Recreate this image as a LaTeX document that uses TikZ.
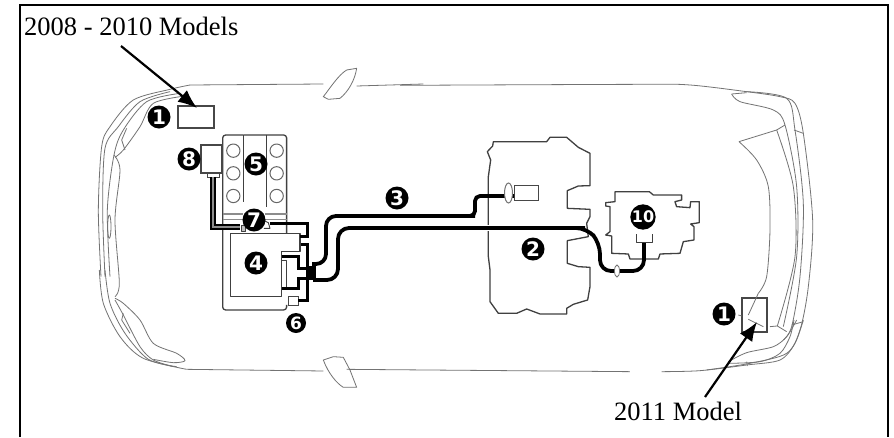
\documentclass[tikz,border=0pt]{standalone}
\usepackage{fontspec}
\setmainfont{Liberation Serif}
\newfontfamily\numfont{DejaVu Sans}
\usetikzlibrary{arrows.meta,shapes.geometric}
\tikzset{
 px/.style={x=1pt,y=-1pt},
 zleft/.style={shift={(90,60)},x=0.3333pt,y=-0.3333pt},
 zmid/.style={shift={(440,110)},x=0.3333pt,y=-0.3333pt},
 zright/.style={shift={(640,70)},x=0.3333pt,y=-0.3333pt},
 zlow/.style={shift={(90,270)},x=0.3333pt,y=-0.3333pt},
 zlowr/.style={shift={(600,320)},x=0.3333pt,y=-0.3333pt},
 carline/.style={draw=black!55,line width=0.8pt,line join=round},
 partline/.style={draw=black!75,line width=1.3pt,line join=round},
 boxline/.style={draw=black!72,line width=1.5pt,fill=white,inner sep=0pt},
 wire/.style={draw=black,line width=3.8pt,line join=round},
 halo/.style={draw=white,line width=5pt},
 num/.style={circle,fill=black,text=white,inner sep=0pt,minimum size=23pt,font=\numfont\bfseries\fontsize{20}{20}\selectfont},
 caption/.style={inner sep=0pt,anchor=base west,font=\fontsize{26.5}{28}\selectfont},
 pointer/.style={-{Latex[length=19pt,width=15pt]},line width=2.2pt,draw=black},
 frameline/.style={draw=black,line width=2.2pt},
}
\begin{document}
\begin{tikzpicture}[px]
\useasboundingbox (0,0) rectangle (894,437);
\fill[white] (0,0) rectangle (894,437);
% frame
\coordinate (fa) at (20,437); \coordinate (fb) at (20,5); \coordinate (fc) at (888,5); \coordinate (fd) at (888,437);
\draw[frameline] (fa) -- (fb) -- (fc) -- (fd);

% car: left end
\begin{scope}[zleft]
 \draw[carline] plot[smooth] coordinates {(300,75)(240,88)(130,120)(60,200)(35,260)(25,450)(33,650)};
 \draw[carline] plot[smooth] coordinates {(240,95)(150,125)(85,200)(45,265)(38,450)(45,650)};
 \draw[carline] plot[smooth] coordinates {(270,100)(170,125)(100,210)(72,285)(52,450)(60,650)};
 \draw[carline] plot[smooth] coordinates {(285,108)(190,130)(150,200)(100,270)(75,292)};
 \draw[carline] (275,110) -- (290,100);
 \draw[carline] plot[smooth] coordinates {(72,285)(90,330)(75,480)(88,670)(75,710)};
 \draw[carline] (110,205) -- (95,240) -- (105,270);
 \draw[carline] (58,500) ellipse (5 and 35);
 \draw[carline] (300,75) -- (700,72);
 \draw[carline] (800,78) -- (1000,72);
 \draw[carline] (700,110) .. controls (720,85) and (745,45) .. (770,30) -- (800,25) .. controls (795,60) and (775,95) .. (750,115) -- (715,118) -- cycle;
\end{scope}
\begin{scope}[zlow]
 \draw[carline] plot[smooth] coordinates {(28,0)(40,100)(90,200)(160,265)(290,298)};
 \draw[carline] plot[smooth] coordinates {(45,0)(60,100)(105,190)(175,268)(260,290)};
 \draw[carline] plot[smooth] coordinates {(75,90)(100,135)(150,230)(190,270)(250,290)};
 \draw[carline] plot[smooth] coordinates {(75,85)(100,100)(150,150)(190,220)(260,250)(285,272)(250,278)(190,268)};
 \draw[carline] (100,130) -- (95,150) -- (120,190);
 \draw[carline] (290,298) -- (700,303);
 \draw[carline] (770,298) -- (1620,305);
 \draw[carline] (700,270) -- (730,260) -- (760,262) -- (780,300) -- (800,352) -- (760,352) .. controls (740,340) and (715,310) .. (700,270) -- cycle;
\end{scope}
% car: top and bottom edges, right end
\begin{scope}[zright]
 \draw[carline] plot[smooth] coordinates {(-720,46)(0,43)(150,45)(320,65)(420,80)(465,100)(490,190)(518,450)(505,650)(480,780)(440,850)(330,880)(200,900)};
 \draw[carline] plot[smooth] coordinates {(320,65)(440,85)(465,180)(490,400)(480,620)(455,770)(430,810)};
 \draw[carline] plot[smooth] coordinates {(275,72)(300,95)(400,120)(435,165)(470,350)(470,560)(430,770)};
 \draw[carline] (275,72) -- (320,68);
 \draw[carline] (462,180) -- (490,190);
 \draw[carline] plot[smooth] coordinates {(297,215)(350,270)(385,350)(390,480)(380,620)(355,670)};
 \draw[carline] (297,215) -- (410,180) -- (435,165);
 \draw[carline] plot[smooth] coordinates {(410,180)(460,350)(465,560)(412,768)};
 \draw[carline] (390,770) -- (412,768) -- (440,785);
 \draw[carline] (455,765) -- (490,755);
\end{scope}
\begin{scope}[zlowr]
 \draw[carline] plot[smooth] coordinates {(185,155)(300,152)(440,135)(540,120)(585,70)(610,0)};
 \draw[carline] plot[smooth] coordinates {(385,125)(440,98)(520,80)(560,50)(590,0)};
 \draw[carline] plot[smooth] coordinates {(385,130)(480,125)(540,100)(570,50)(582,0)};
 \draw[carline] (440,125) -- (442,138);
\end{scope}

% centre floor shape
\begin{scope}[zmid]
 \draw[partline] (160,95) -- (320,95) -- (330,82) -- (380,82) -- (415,112) -- (450,130) -- (450,227) -- (415,228) -- (382,242) -- (382,295) -- (450,298) -- (450,320) -- (440,340) -- (445,380) -- (382,392) -- (382,460) -- (415,470) -- (450,472) -- (450,530) -- (443,570) -- (400,583) -- (380,595) -- (380,612) -- (300,612) -- (260,597) -- (230,610) -- (175,610) -- (150,575) -- (150,480) -- (145,440) -- (145,200) -- (152,150) -- (142,125) -- (158,108) -- cycle;
 \draw[partline] (525,245) -- (628,245) -- (640,255) -- (725,255) -- (725,270) -- (705,275) -- (710,290) -- (750,293) -- (752,275) -- (778,275) -- (778,338) -- (752,342) -- (762,350) -- (762,390) -- (730,395) -- (720,430) -- (660,432) -- (655,447) -- (570,447) -- (565,432) -- (515,430) -- (515,378) -- (497,375) -- (510,365) -- (510,290) -- (497,288) -- (497,278) -- (525,275) -- cycle;
\end{scope}

% engine
\begin{scope}[zleft]
 \draw[partline,rounded corners=3pt] (460,225) -- (398,225) -- (398,750) -- (590,750) -- (590,735);
 \draw[partline,rounded corners=3pt] (460,225) -- (590,225) -- (590,520);
 \draw[partline] (460,225) -- (460,440) (530,225) -- (530,440);
 \draw[partline,draw=black!45] (398,462) -- (590,462) (398,478) -- (590,478);
 \foreach \cx/\cy in {430/272,430/340,430/408,560/272,560/340,560/408}
   \draw[partline,draw=black!60,line width=1pt] (\cx,\cy) circle (20);
\end{scope}

% boxes
\node[boxline,minimum width=36pt,minimum height=22pt] (frontbox) at (196,117) {};
\node[boxline,minimum width=25pt,minimum height=34pt] (rearbox) at (754.5,315) {};
\node[boxline,minimum width=21pt,minimum height=28pt] (ecu) at (211.5,159) {};
\node[boxline,line width=0.9pt,minimum width=12pt,minimum height=4pt] (ecuplug) at (213,175) {};
\node[boxline,line width=1pt,minimum width=24pt,minimum height=15pt] (gearbox) at (526,192.5) {};
\node[boxline,minimum width=10pt,minimum height=9pt,line width=0.9pt] (sixbox) at (293,300.5) {};
\begin{scope}[zright]
 \draw[carline] (355,670) -- (325,735);
 \draw[carline] (295,735) -- (305,738);
 \draw[carline] (325,748) -- (370,770);
\end{scope}

% box 4
\begin{scope}[zleft]
 \draw[partline,line width=1.5pt,fill=white] (422,520) -- (630,520) -- (630,575) -- (575,575) -- (575,710) -- (422,710) -- cycle;
 \draw[partline,line width=0.9pt] (575,600) -- (590,600) -- (590,680);
 \draw[draw=white,line width=1.2pt,dash pattern=on 10pt off 2pt] (460,518) -- (522,518);
 \draw[draw=white,line width=1pt,dash pattern=on 6pt off 3pt] (460,425) -- (460,500);
 \draw[draw=white,line width=1pt,dash pattern=on 6pt off 3pt] (525,425) -- (525,480);
 \draw[partline,line width=0.9pt,fill=black!25] (455,495) rectangle (467,515);
 \draw[partline,line width=0.9pt] (522,482) -- (535,488) -- (540,505) -- (522,505);
\end{scope}

% wiring
\coordinate (w8a) at (213,177);
\coordinate (w8b) at (213,227);
\coordinate (w8c) at (240,227);
\draw[draw=black,line width=2.4pt,double=black!45,double distance=1.6pt] (w8a) -- (w8b) -- (w8c);
\begin{scope}[zleft]
 \draw[draw=black,line width=3pt,line join=miter] (540,492) -- (652,492) -- (652,530) -- (630,530);
 \draw[draw=black,line width=3pt,line join=miter] (632,555) -- (652,555) -- (652,722) -- (625,722);
 \draw[draw=black,line width=3pt,line join=miter] (575,590) -- (625,590) -- (625,625) -- (660,625);
 \draw[draw=black,line width=3pt,line join=miter] (660,655) -- (625,655) -- (625,685) -- (575,685);
 \fill[black] (650,618) rectangle (677,660);
\end{scope}
\coordinate (ja) at (312,264);
\coordinate (jb) at (313,280);
\coordinate (gearwire) at (514,196);
\draw[wire,rounded corners=10pt] (ja) -- (326,264) -- (326,216) -- (475,216);
\draw[wire,rounded corners=5pt] (420,216) -- (475,216) -- (475,196) -- (gearwire);
\draw[halo,line width=6pt] (480,228) -- (500,228);
\draw[wire,rounded corners=11pt] (jb) -- (338,280) -- (338,228) -- (585,228);
\draw[wire,rounded corners=11pt] (575,228) -- (587,228) -- (600,243) -- (600,271) -- (644,271) -- (644,242);
\draw[partline,line width=1pt] (636,234) -- (636,242) -- (652,242) -- (652,234);
\node[draw=black!55,fill=white,line width=1pt,ellipse,inner sep=0pt,minimum width=8pt,minimum height=20pt] (grommetA) at (508.5,193) {};
\node[draw=black!55,fill=white,line width=0.8pt,ellipse,inner sep=0pt,minimum width=5pt,minimum height=12pt] (grommetB) at (617,271) {};

% numbers
\node[num] (n1a) at (159,117) {1};
\node[num] (n1b) at (724,314) {1};
\node[num] (n2) at (533,249) {2};
\node[num] (n3) at (397,198) {3};
\node[num] (n4) at (256,263) {4};
\node[num] (n5) at (256,164) {5};
\node[num,minimum size=20pt,font=\numfont\bfseries\fontsize{17}{17}\selectfont] (n6) at (296,323) {6};
\node[num] (n7) at (254,220) {7};
\node[num] (n8) at (189,159) {8};
\node[num,font=\numfont\bfseries\fontsize{16}{16}\selectfont] (n10) at (643,217) {10};

% captions and pointers
\node[caption] (capA) at (24,35) {2008 - 2010 Models};
\node[caption] (capB) at (614,420) {2011 Model};
\coordinate (tailA) at (121,46); \coordinate (tipA) at (197,108);
\coordinate (tailB) at (705,397); \coordinate (tipB) at (757,322);
\draw[pointer] (tailA) -- (tipA);
\draw[pointer] (tailB) -- (tipB);
\end{tikzpicture}
\end{document}
